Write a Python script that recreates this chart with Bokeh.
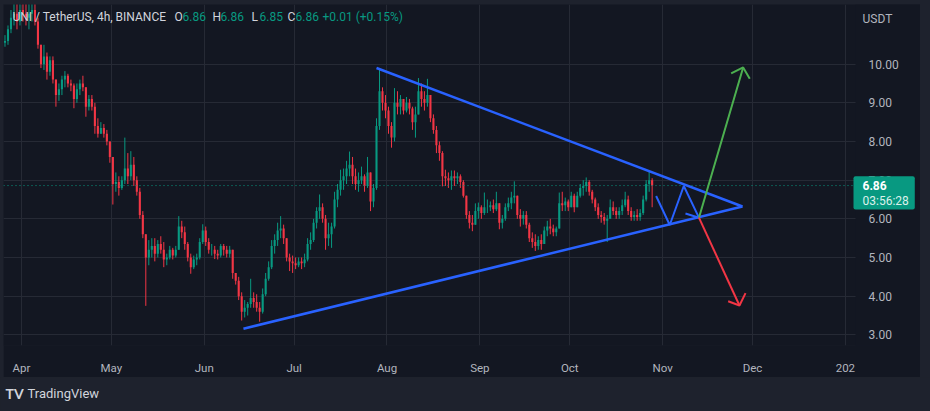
import pandas as pd
from bokeh.plotting import figure
from bokeh.models import (FixedTicker, Label, NumeralTickFormatter, Range1d,
                          ColumnDataSource, LinearAxis, Grid)
from bokeh.layouts import column
from bokeh.embed import file_html
from bokeh.resources import INLINE

# ---------------- data (daily approximation of the 4h chart) ----------------
first_day = "2023-03-26"
first_open = 10.55

highs = (
    [10.75, 11.0, 11.4, 11.6, 11.6, 11.6]  # Mar 26-31
    + [11.6, 11.6, 11.6, 11.6, 11.6, 11.2, 10.5, 10.5, 10.3, 10.2,
       10.2, 9.6, 9.5, 9.7, 9.82, 9.75, 9.6, 9.5, 9.5, 9.6,
       9.7, 9.4, 9.2, 9.2, 9.0, 8.6, 8.5, 8.45, 8.3, 8.0]  # Apr
    + [7.6, 7.2, 7.1, 7.1, 8.1, 7.7, 7.75, 7.6, 7.1, 6.8,
       6.2, 5.6, 5.45, 5.5, 5.5, 5.45, 5.55, 5.4, 5.1, 5.3,
       5.25, 5.3, 6.07, 5.95, 5.8, 5.4, 5.1, 5.05, 5.1, 5.5, 5.86]  # May
    + [5.8, 5.5, 5.35, 5.3, 5.2, 5.35, 5.35, 5.3, 5.3, 5.2,
       4.6, 4.5, 4.1, 3.9, 3.85, 4.45, 4.1, 4.05, 3.85, 4.2,
       4.6, 4.9, 5.45, 5.6, 5.9, 6.07, 5.85, 5.5, 5.1, 5.05]  # Jun
    + [5.0, 5.0, 5.0, 5.1, 5.5, 5.65, 6.0, 6.3, 6.63, 6.4,
       6.1, 5.9, 5.9, 6.7, 6.9, 7.27, 7.3, 7.5, 7.74, 7.6,
       7.3, 7.2, 7.35, 7.15, 7.6, 7.2, 6.9, 8.6, 9.85, 9.4, 9.2]  # Jul
    + [8.9, 8.5, 9.38, 9.3, 9.2, 9.1, 9.15, 9.1, 8.9, 8.9,
       9.64, 9.5, 9.3, 9.62, 9.2, 8.7, 8.4, 8.0, 7.75, 7.27,
       7.2, 7.25, 7.25, 7.2, 7.15, 7.0, 6.6, 6.2, 6.1, 6.4, 6.42]  # Aug
    + [6.35, 6.68, 6.5, 6.45, 6.5, 6.7, 6.4, 6.1, 6.4, 6.55,
       6.7, 6.97, 6.6, 6.25, 6.2, 6.2, 5.9, 5.65, 5.6, 5.55,
       5.6, 5.8, 5.95, 6.0, 5.85, 5.8, 6.68, 6.7, 6.55, 6.5]  # Sep
    + [6.7, 6.65, 6.7, 6.9, 7.0, 7.07, 7.0, 6.75, 6.55, 6.4,
       6.2, 6.15, 6.1, 6.5, 6.45, 6.3, 6.3, 6.5, 6.7, 6.6,
       6.3, 6.2, 6.25, 6.25, 6.6, 7.0, 7.22, 7.05]  # Oct 1-28
)

lows = (
    [10.45, 10.5, 10.8, 11.0, 10.9, 11.0]
    + [11.1, 11.0, 10.9, 11.1, 11.0, 10.4, 9.9, 9.85, 9.6, 9.7,
       9.5, 8.9, 9.05, 9.2, 9.4, 9.4, 9.3, 8.86, 9.0, 9.2,
       9.3, 8.64, 8.8, 8.8, 8.2, 8.1, 8.2, 8.1, 7.9, 7.45]
    + [6.37, 6.7, 6.6, 6.75, 6.9, 6.9, 7.0, 6.85, 6.6, 6.0,
       5.5, 3.75, 4.8, 5.0, 4.9, 5.0, 5.1, 4.75, 4.8, 4.95,
       4.95, 5.0, 5.2, 5.5, 5.2, 4.9, 4.58, 4.7, 4.8, 4.95, 5.35]
    + [5.3, 5.1, 5.05, 4.96, 4.95, 5.0, 5.05, 5.0, 5.0, 4.45,
       4.3, 3.9, 3.37, 3.45, 3.5, 3.7, 3.7, 3.6, 3.34, 3.55,
       4.0, 4.4, 4.7, 5.1, 5.3, 5.5, 5.35, 4.9, 4.65, 4.6]
    + [4.7, 4.75, 4.7, 4.75, 4.9, 5.2, 5.4, 5.75, 6.0, 5.9,
       5.2, 5.3, 5.25, 5.75, 6.3, 6.6, 6.75, 6.9, 7.1, 6.9,
       6.75, 6.7, 6.9, 6.7, 6.8, 6.2, 6.3, 6.75, 8.3, 8.8, 8.6]
    + [8.2, 7.84, 8.0, 8.7, 8.7, 8.7, 8.75, 8.7, 8.3, 8.1,
       8.7, 8.9, 8.8, 8.9, 8.5, 8.2, 7.7, 7.5, 6.84, 6.85,
       6.8, 6.75, 6.85, 6.9, 6.8, 6.55, 6.0, 5.75, 5.68, 5.85, 6.0]
    + [6.0, 6.1, 6.15, 6.2, 6.15, 6.2, 5.73, 5.75, 5.95, 6.2,
       6.25, 6.4, 6.0, 5.8, 5.85, 5.75, 5.4, 5.25, 5.17, 5.2,
       5.2, 5.35, 5.55, 5.6, 5.55, 5.55, 5.75, 6.2, 6.2, 6.2]
    + [6.3, 6.17, 6.3, 6.55, 6.6, 6.7, 6.6, 6.4, 6.2, 6.0,
       5.9, 5.85, 5.4, 6.0, 6.1, 6.0, 6.0, 6.1, 6.3, 6.1,
       5.95, 5.95, 5.95, 5.95, 6.1, 6.45, 6.7, 6.3]
)

closes = (
    [10.6, 10.9, 11.2, 11.3, 11.1, 11.4]
    + [11.3, 11.2, 11.3, 11.4, 11.1, 10.5, 10.0, 10.2, 9.8, 10.1,
       9.6, 9.2, 9.35, 9.6, 9.7, 9.5, 9.45, 9.1, 9.35, 9.5,
       9.4, 8.9, 9.1, 8.9, 8.4, 8.2, 8.35, 8.2, 8.0, 7.6]
    + [6.9, 6.95, 6.8, 7.0, 7.3, 7.1, 7.4, 7.0, 6.7, 6.1,
       5.6, 5.0, 5.2, 5.3, 5.1, 5.35, 5.2, 4.95, 5.0, 5.2,
       5.05, 5.2, 5.8, 5.65, 5.35, 5.0, 4.75, 4.95, 5.0, 5.4, 5.7]
    + [5.4, 5.2, 5.2, 5.1, 5.05, 5.3, 5.2, 5.1, 5.2, 4.6,
       4.4, 4.0, 3.6, 3.7, 3.8, 3.95, 3.85, 3.7, 3.6, 4.05,
       4.45, 4.75, 5.3, 5.45, 5.7, 5.75, 5.5, 5.0, 4.9, 4.85]
    + [4.8, 4.9, 4.85, 4.95, 5.35, 5.45, 5.9, 6.2, 6.3, 6.0,
       5.5, 5.6, 5.8, 6.5, 6.75, 7.0, 7.1, 7.3, 7.4, 7.1,
       6.9, 7.0, 7.1, 6.85, 7.2, 6.45, 6.8, 8.4, 9.3, 9.0, 8.8]
    + [8.4, 8.1, 9.0, 8.9, 9.1, 8.8, 9.0, 8.85, 8.5, 8.7,
       9.3, 9.1, 9.0, 9.2, 8.6, 8.3, 7.9, 7.7, 7.1, 7.05,
       7.0, 7.1, 7.05, 7.1, 6.95, 6.6, 6.1, 5.9, 5.85, 6.2, 6.3]
    + [6.15, 6.3, 6.3, 6.35, 6.25, 6.4, 5.9, 6.0, 6.3, 6.4,
       6.55, 6.6, 6.1, 6.0, 6.1, 5.85, 5.5, 5.4, 5.3, 5.45,
       5.35, 5.7, 5.8, 5.75, 5.65, 5.75, 6.4, 6.35, 6.45, 6.3]
    + [6.6, 6.3, 6.6, 6.8, 6.85, 6.95, 6.7, 6.5, 6.3, 6.1,
       6.05, 5.95, 6.0, 6.3, 6.2, 6.1, 6.2, 6.35, 6.5, 6.2,
       6.05, 6.1, 6.05, 6.15, 6.5, 6.9, 7.0, 6.86]
)

month_ticks = ["2023-04-01", "2023-05-01", "2023-06-01", "2023-07-01", "2023-08-01",
               "2023-09-01", "2023-10-01", "2023-11-01", "2023-12-01", "2024-01-01"]
month_labels = ["Apr", "May", "Jun", "Jul", "Aug", "Sep", "Oct", "Nov", "Dec", "202"]
price_ticks = [3, 4, 5, 6, 7, 8, 9, 10]

last_price = 6.86
countdown = "03:56:28"
header_title = "UNI / TetherUS, 4h, BINANCE"
ohlc_keys = ["O", "H", "L", "C"]
ohlc_vals = ["6.86", "6.86", "6.85", "6.86"]
change_text = "+0.01 (+0.15%)"
scale_unit = "USDT"

# drawings (date, price)
upper_dates = ["2023-07-28 12:00", "2023-11-27 15:30"]
upper_prices = [9.90, 6.32]
lower_dates = ["2023-06-14 02:00", "2023-11-27 15:30"]
lower_prices = [3.16, 6.32]
zig_dates = ["2023-10-29 20:00", "2023-11-03 09:00", "2023-11-08 01:30", "2023-11-13 03:00"]
zig_prices = [6.59, 5.84, 6.85, 6.03]
zig_head_dates = ["2023-11-08 15:00", "2023-11-13 03:00"]
zig_head_prices = [6.14, 6.03]
up_dates = ["2023-11-13 03:00", "2023-11-27 21:00"]
up_prices = [6.03, 9.915]
up_head_dates = ["2023-11-23 21:00", "2023-11-27 21:00", "2023-11-30 02:00"]
up_head_prices = [9.76, 9.915, 9.62]
down_dates = ["2023-11-13 03:00", "2023-11-26 15:30"]
down_prices = [6.03, 3.76]
down_head_dates = ["2023-11-22 21:00", "2023-11-26 15:30", "2023-11-28 16:00"]
down_head_prices = [3.87, 3.76, 4.08]

# ---------------- styling ----------------
BG = "#131722"
OUTER = "#1e222d"
GRID = "#262a35"
TXT = "#b2b5be"
GREEN = "#089981"
RED = "#f23645"
BLUE = "#2962ff"
FONT = "Roboto"

n = min(len(highs), len(lows), len(closes))
dates = pd.date_range(first_day, periods=n, freq="D") + pd.Timedelta(hours=12)
opens = [first_open] + closes[: n - 1]
cols = [GREEN if closes[i] >= opens[i] else RED for i in range(n)]
src = ColumnDataSource(dict(
    x=dates, h=highs[:n], l=lows[:n],
    top=[max(opens[i], closes[i]) for i in range(n)],
    bot=[min(opens[i], closes[i]) for i in range(n)],
    col=cols,
))

x_start = pd.Timestamp("2023-03-26 00:00")
x_split = pd.Timestamp("2024-01-04 09:00")   # where the price scale begins
x_end = pd.Timestamp("2024-01-26 01:40")
y_lo, y_hi = 2.725, 11.542

fig = figure(width=917, height=373, x_axis_type="datetime", y_axis_location=None,
             x_range=Range1d(x_start, x_end), y_range=Range1d(y_lo, y_hi),
             output_backend="svg", toolbar_location=None,
             min_border_left=0, min_border_top=0, min_border_right=0, min_border_bottom=30)
fig.margin = (4, 10, 0, 3)
fig.title.visible = False
fig.background_fill_color = BG
fig.border_fill_color = BG
fig.outline_line_color = None

tick_ms = [pd.Timestamp(t).value / 1e6 for t in month_ticks]
fig.xaxis.ticker = FixedTicker(ticks=tick_ms)
fig.xaxis.major_label_overrides = {t: lab for t, lab in zip(tick_ms, month_labels)}
fig.xgrid.ticker = FixedTicker(ticks=tick_ms)
for g in fig.ygrid:
    g.visible = False
fig.add_layout(Grid(dimension=1, ticker=FixedTicker(ticks=price_ticks), grid_line_color=GRID))

yax = LinearAxis(ticker=FixedTicker(ticks=price_ticks), formatter=NumeralTickFormatter(format="0.00"),
                 fixed_location=x_split.value / 1e6)
fig.add_layout(yax, "right")

for ax in (fig.xaxis[0], yax):
    ax.axis_line_color = None
    ax.major_tick_line_color = None
    ax.minor_tick_line_color = None
    ax.major_label_text_color = TXT
    ax.major_label_text_font = FONT
fig.xaxis.major_label_text_font_size = "11.5px"
yax.major_label_text_font_size = "12px"
fig.xaxis.major_label_standoff = 9
yax.major_label_standoff = 7
fig.xgrid.grid_line_color = GRID

# candles
fig.segment(x0="x", y0="l", x1="x", y1="h", source=src, line_color="col", line_width=1)
fig.vbar(x="x", width=0.7 * 86400000, top="top", bottom="bot", source=src,
         fill_color="col", line_color=None)

# price-scale area background (hides grid lines under the scale)
fig.quad(left=[x_split], right=[x_end], bottom=[y_lo], top=[y_hi], fill_color=BG, line_color=None)

# current price dotted line
fig.line([x_start, x_split], [last_price, last_price], line_color=GREEN,
         line_dash="1 3", line_width=1)

# drawings
def ts(lst):
    return [pd.Timestamp(t) for t in lst]

fig.line(ts(upper_dates), upper_prices, line_color=BLUE, line_width=2.5)
fig.line(ts(lower_dates), lower_prices, line_color=BLUE, line_width=2.5)
fig.line(ts(zig_dates), zig_prices, line_color=BLUE, line_width=2)
fig.line(ts(zig_head_dates), zig_head_prices, line_color=BLUE, line_width=2)
fig.line(ts(up_dates), up_prices, line_color="#4caf50", line_width=2)
fig.line(ts(up_head_dates), up_head_prices, line_color="#4caf50", line_width=2)
fig.line(ts(down_dates), down_prices, line_color=RED, line_width=2)
fig.line(ts(down_head_dates), down_head_prices, line_color=RED, line_width=2)

# header legend
HY = 329
fig.add_layout(Label(x=9, y=HY, x_units="screen", y_units="screen", text=header_title,
                     text_color="#d1d4dc", text_font=FONT, text_font_size="12px",
                     text_baseline="middle"))
key_x = [171, 209, 248, 284]
for kx, k, v in zip(key_x, ohlc_keys, ohlc_vals):
    fig.add_layout(Label(x=kx, y=HY, x_units="screen", y_units="screen", text=k,
                         text_color="#d1d4dc", text_font=FONT, text_font_size="12px",
                         text_baseline="middle"))
    fig.add_layout(Label(x=kx + 8, y=HY, x_units="screen", y_units="screen", text=v,
                         text_color=GREEN, text_font=FONT, text_font_size="12px",
                         text_baseline="middle"))
fig.add_layout(Label(x=319, y=HY, x_units="screen", y_units="screen", text=change_text,
                     text_color=GREEN, text_font=FONT, text_font_size="12px",
                     text_baseline="middle"))

# price scale unit + last price tag
fig.add_layout(Label(x=x_split, y=11.18, x_offset=7, text=scale_unit, text_color=TXT,
                     text_font=FONT, text_font_size="12px", text_baseline="middle"))
fig.add_layout(Label(x=x_split, y=6.671, x_offset=-2, text=" \n" + countdown,
                     text_color="#dcf1ec", text_font=FONT, text_font_size="12px",
                     text_line_height=1.1, text_baseline="middle",
                     background_fill_color=GREEN,
                     padding=dict(left=9, right=6, top=2, bottom=2), border_radius=2))
fig.add_layout(Label(x=x_split, y=last_price, x_offset=7, text="%.2f" % last_price,
                     text_color="#ffffff", text_font=FONT, text_font_size="12px",
                     text_font_style="bold", text_baseline="middle"))

# bottom strip with branding
foot = figure(width=930, height=34, x_range=Range1d(0, 930), y_range=Range1d(0, 34),
              x_axis_location=None, y_axis_location=None, output_backend="svg",
              toolbar_location=None, min_border=0)
foot.title.visible = False
foot.background_fill_color = OUTER
foot.border_fill_color = OUTER
foot.outline_line_color = None
foot.grid.visible = False
foot.add_layout(Label(x=5, y=18, text="TV", text_color="#d1d4dc", text_font="Lato",
                      text_font_size="14px", text_font_style="bold", text_baseline="middle"))
foot.add_layout(Label(x=27, y=18, text="TradingView", text_color="#d1d4dc", text_font=FONT,
                      text_font_size="13px", text_baseline="middle"))

p = column(fig, foot)
html = file_html(p, INLINE)
html = html.replace("<head>", "<head><style>html,body{background:#1e222d;}</style>", 1)
open("out.html", "w").write(html)
